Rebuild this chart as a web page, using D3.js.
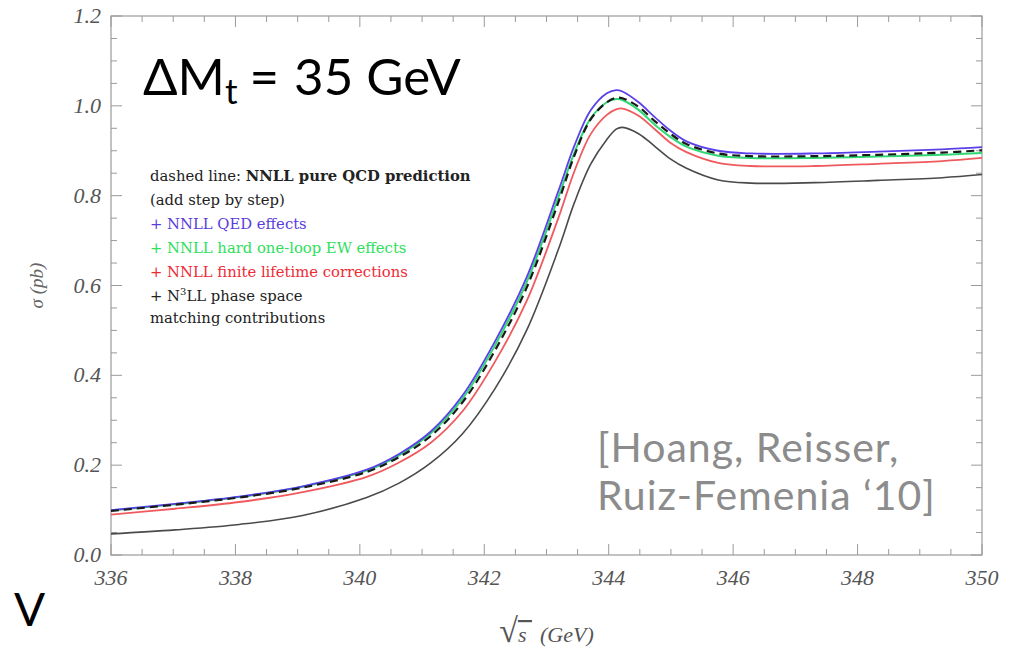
<!DOCTYPE html>
<html><head><meta charset="utf-8">
<script src="https://cdn.jsdelivr.net/npm/d3@7"></script>
<style>
body{margin:0;background:#fff;}
svg{display:block;}
</style></head>
<body>
<svg id="chart" width="1012" height="653"></svg>
<script>
// ---- data ----
const energies = [336, 337.03, 338.06, 339.08, 340.11, 340.63, 341.14, 341.65, 342.17, 342.68, 343.19, 343.45, 343.71, 343.97, 344.12, 344.22, 344.48, 344.74, 344.99, 345.25, 345.76, 346.28, 347.31, 348.33, 349.36, 350];
const qedValues   = [0.100,0.114,0.130,0.153,0.190,0.225,0.275,0.355,0.475,0.618,0.810,0.912,0.990,1.028,1.035,1.032,1.008,0.975,0.945,0.921,0.900,0.894,0.894,0.898,0.903,0.908];
const ewValues    = [0.099,0.113,0.129,0.152,0.188,0.222,0.271,0.348,0.466,0.607,0.796,0.896,0.972,1.008,1.015,1.013,0.991,0.958,0.931,0.909,0.889,0.884,0.884,0.887,0.891,0.895];
const qcdValues   = [0.098,0.112,0.128,0.150,0.185,0.218,0.265,0.340,0.455,0.595,0.785,0.890,0.970,1.008,1.018,1.017,0.998,0.966,0.938,0.915,0.894,0.888,0.888,0.891,0.896,0.901];
const widthValues = [0.090,0.103,0.118,0.140,0.174,0.206,0.250,0.320,0.430,0.565,0.750,0.855,0.937,0.980,0.992,0.994,0.978,0.948,0.918,0.897,0.873,0.866,0.866,0.871,0.877,0.884];
const n3llValues  = [0.047,0.056,0.068,0.088,0.128,0.160,0.205,0.270,0.370,0.500,0.680,0.785,0.870,0.925,0.948,0.952,0.938,0.910,0.882,0.861,0.835,0.828,0.829,0.834,0.840,0.847];
const xTicks = [336, 338, 340, 342, 344, 346, 348, 350];
const yTicks = [0.0, 0.2, 0.4, 0.6, 0.8, 1.0, 1.2];
const legendLines = ["dashed line: ", "(add step by step)", "+ NNLL QED effects", "+ NNLL hard one-loop EW effects", "+ NNLL finite lifetime corrections", "+ N³LL phase space", "matching contributions"];

// ---- layout ----
const svg = d3.select("#chart");
const W = 1012, H = 653;
const m = {left:111, right:30, top:16, bottom:98};
const x = d3.scaleLinear().domain([336,350]).range([m.left, W - m.right]);
const y = d3.scaleLinear().domain([0,1.2]).range([H - m.bottom, m.top]);
const frameCol = "#9a9a9a";
const labCol = "#555";

// frame
svg.append("rect").attr("x", x(336)).attr("y", y(1.2)).attr("width", x(350)-x(336)).attr("height", y(0)-y(1.2))
  .attr("fill","none").attr("stroke",frameCol).attr("stroke-width",1.2);

// ticks
const xMinor = d3.range(336, 350.01, 0.5);
const yMinor = d3.range(0, 1.2001, 0.05);
const tg = svg.append("g").attr("stroke", frameCol).attr("stroke-width",1);
xMinor.forEach(v => {
  const major = Math.abs(v/2 - Math.round(v/2)) < 1e-6;
  const L = major ? 11 : 6;
  tg.append("line").attr("x1",x(v)).attr("x2",x(v)).attr("y1",y(0)).attr("y2",y(0)-L);
  tg.append("line").attr("x1",x(v)).attr("x2",x(v)).attr("y1",y(1.2)).attr("y2",y(1.2)+L);
});
yMinor.forEach(v => {
  const major = Math.abs(v/0.2 - Math.round(v/0.2)) < 1e-6;
  const L = major ? 11 : 6;
  tg.append("line").attr("x1",x(336)).attr("x2",x(336)+L).attr("y1",y(v)).attr("y2",y(v));
  tg.append("line").attr("x1",x(350)).attr("x2",x(350)-L).attr("y1",y(v)).attr("y2",y(v));
});

// tick labels
const tickFont = "'Liberation Serif', 'Times New Roman', serif";
svg.append("g").selectAll("text").data(xTicks).join("text")
  .attr("x", d => x(d)).attr("y", y(0) + 30).attr("text-anchor","middle")
  .attr("font-family", tickFont).attr("font-style","italic").attr("font-size",22).attr("fill",labCol)
  .text(d => d);
svg.append("g").selectAll("text").data(yTicks).join("text")
  .attr("x", x(336) - 10).attr("y", d => y(d) + 7).attr("text-anchor","end")
  .attr("font-family", tickFont).attr("font-style","italic").attr("font-size",22).attr("fill",labCol)
  .text(d => d.toFixed(1));

// axis titles
svg.append("text").attr("transform", `translate(43,${(y(0)+y(1.2))/2}) rotate(-90)`)
  .attr("text-anchor","middle").attr("font-family", tickFont).attr("font-style","italic")
  .attr("font-size",19).attr("fill","#666").text("σ (pb)");
const xl = svg.append("text").attr("x", (x(336)+x(350))/2).attr("y", 642).attr("text-anchor","middle")
  .attr("font-family", tickFont).attr("fill","#555").attr("font-size",22);
xl.append("tspan").attr("font-size",34).text("√");
xl.append("tspan").attr("font-style","italic").attr("text-decoration","overline").text("s ");
xl.append("tspan").attr("font-style","italic").attr("dx",8).text("(GeV)");

// curves
const line = d3.line().x(d => x(d[0])).y(d => y(d[1])).curve(d3.curveCatmullRom.alpha(0.5));
const series = [
  {vals: n3llValues, color:"#4a4a4a", w:1.6},
  {vals: widthValues, color:"#ef5a5e", w:1.8},
  {vals: ewValues, color:"#2fd872", w:2},
  {vals: qedValues, color:"#5a40e8", w:1.8},
];
series.forEach(s => {
  svg.append("path").datum(energies.map((e,i)=>[e, s.vals[i]])).attr("d", line)
    .attr("fill","none").attr("stroke", s.color).attr("stroke-width", s.w);
});
svg.append("path").datum(energies.map((e,i)=>[e, qcdValues[i]])).attr("d", line)
  .attr("fill","none").attr("stroke","#1a1a1a").attr("stroke-width",2.2).attr("stroke-dasharray","8,5");

// title
const title = svg.append("text").attr("x", 143).attr("y", 95)
  .attr("font-family","Lato, 'Open Sans', sans-serif").attr("font-size",51).attr("fill","#000");
title.append("tspan").text("ΔM");
title.append("tspan").attr("font-size",35).attr("dy",9).text("t");
title.append("tspan").attr("dy",-9).attr("dx",12).text("=");
title.append("tspan").attr("dx",15).text("35 GeV");

// legend
const legFont = "'DejaVu Serif', serif";
const legColors = ["#222","#222","#5a3cdc","#2ee05c","#ee2a34","#222","#222"];
const lg = svg.append("g").attr("font-family", legFont).attr("font-size",14.8);
const y0 = 181, dy = 24;
legendLines.forEach((t,i) => {
  const tx = lg.append("text").attr("x",150).attr("y", y0 + i*dy - (i===6 ? 2 : 0)).attr("fill", legColors[i]);
  if (i === 0) {
    tx.append("tspan").text(t);
    tx.append("tspan").attr("font-weight","bold").text("NNLL pure QCD prediction");
  } else if (i === 5) {
    tx.append("tspan").text("+ N");
    tx.append("tspan").attr("font-size",10).attr("dy",-6).text("3");
    tx.append("tspan").attr("dy",6).text("LL phase space");
  } else tx.text(t);
});

// citation
const cite = svg.append("g").attr("font-family","Lato, 'Open Sans', sans-serif").attr("font-size",41)
  .attr("letter-spacing",1).attr("fill","#8c8c8c");
cite.append("text").attr("x",597).attr("y",462).text("[Hoang, Reisser,");
cite.append("text").attr("x",597).attr("y",510).text("Ruiz-Femenia ‘10]");

// cut-off slide text (only the "V" is visible in the reference)
svg.append("text").attr("x",14).attr("y",626)
  .attr("font-family","Lato, 'Open Sans', sans-serif").attr("font-size",46).attr("fill","#000").text("V");
</script>
</body></html>
